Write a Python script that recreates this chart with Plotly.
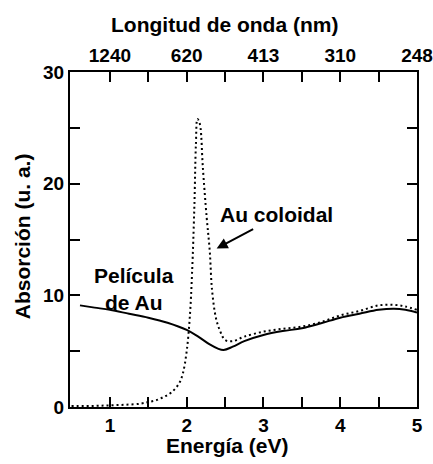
import plotly.graph_objects as go

# Película de Au (solid)
film_E = [0.61, 0.8, 1.0, 1.25, 1.5, 1.75, 2.0, 2.15, 2.3, 2.4, 2.48, 2.6, 2.75, 3.0, 3.25, 3.5, 3.75, 4.0, 4.25, 4.5, 4.7, 4.85, 5.0]
film_A = [9.1, 8.9, 8.7, 8.35, 8.0, 7.55, 6.9, 6.3, 5.6, 5.25, 5.1, 5.4, 5.9, 6.45, 6.8, 7.05, 7.5, 8.0, 8.35, 8.7, 8.8, 8.7, 8.45]

# Au coloidal (dotted)
col_E = [0.5, 0.8, 1.0, 1.2, 1.4, 1.5, 1.6, 1.7, 1.8, 1.9, 1.95, 2.0, 2.04, 2.07, 2.1, 2.12, 2.14, 2.16, 2.18, 2.21, 2.26, 2.3, 2.33, 2.38, 2.43, 2.5, 2.6, 2.75, 3.0, 3.25, 3.5, 3.75, 4.0, 4.25, 4.5, 4.7, 4.85, 5.0]
col_A = [0.1, 0.1, 0.15, 0.2, 0.3, 0.45, 0.6, 0.9, 1.3, 2.1, 3.0, 5.0, 8.0, 12.0, 18.0, 23.5, 25.8, 25.6, 25.0, 21.5, 17.0, 14.0, 10.5, 8.0, 6.9, 6.0, 5.9, 6.3, 6.75, 7.0, 7.2, 7.6, 8.2, 8.6, 9.1, 9.15, 9.0, 8.7]

# ticks (major labelled, halves unlabelled)
energy_ticks = [1, 1.5, 2, 2.5, 3, 3.5, 4, 4.5, 5]
energy_labels = ["1", "", "2", "", "3", "", "4", "", "5"]
wavelength_labels = ["1240", "", "620", "", "413", "", "310", "", "248"]
y_ticks = [0, 5, 10, 15, 20, 25, 30]
y_labels = ["0", "", "10", "", "20", "", "30"]

FONT = "Liberation Sans, Arial, sans-serif"
TICKFONT = dict(family=FONT, size=19, color="black", weight="bold")
LABELFONT = dict(family=FONT, size=21, color="black", weight="bold")

fig = go.Figure()
fig.add_trace(go.Scatter(x=film_E, y=film_A, mode="lines", line=dict(color="black", width=2, shape="spline"),
                         showlegend=False))
fig.add_trace(go.Scatter(x=col_E, y=col_A, mode="lines",
                         line=dict(color="black", width=2, dash="2px,3px", shape="spline"),
                         showlegend=False))
fig.add_trace(go.Scatter(x=[1, 5], y=[0, 0], xaxis="x2", mode="lines", line=dict(width=0), opacity=0,
                         showlegend=False, hoverinfo="skip"))

axis_common = dict(showline=True, linecolor="black", linewidth=2, ticks="inside", tickcolor="#000000",
                   tickwidth=2, ticklen=10, showgrid=False, zeroline=False, tickfont=TICKFONT,
                   automargin=False, tickmode="array", layer="above traces")

C = dict(xanchor="center", yanchor="middle", showarrow=False, font=LABELFONT)

fig.update_layout(
    template="simple_white",
    width=433, height=464,
    margin=dict(l=70, r=16, t=72, b=57),
    plot_bgcolor="rgba(0,0,0,0)", paper_bgcolor="white",
    xaxis=dict(range=[0.48, 5.0], tickvals=energy_ticks, ticktext=energy_labels, mirror=True, **axis_common),
    xaxis2=dict(range=[0.48, 5.0], overlaying="x", side="top", tickvals=energy_ticks,
                ticktext=wavelength_labels, **axis_common),
    yaxis=dict(range=[0, 30], tickvals=y_ticks, ticktext=y_labels, mirror="ticks", **axis_common),
    annotations=[
        dict(x=0.444, y=1.143, xref="paper", yref="paper", text="Longitud de onda (nm)", **C),
        dict(x=0.455, y=-0.115, xref="paper", yref="paper", text="Energía (eV)", **C),
        dict(x=-0.138, y=0.51, xref="paper", yref="paper", text="Absorción (u. a.)", textangle=-90, **C),
        dict(x=2.39, y=14.2, ax=38, ay=-20, xref="x", yref="y",
             text="", showarrow=True, arrowhead=2, arrowsize=1.1, arrowwidth=2, arrowcolor="black"),
        dict(x=3.17, y=17.2, xref="x", yref="y", text="Au coloidal", **C),
        dict(x=1.32, y=10.56, xref="x", yref="y", text="Película<br>de Au", **C),
    ],
)

fig.write_html("out.html", config={"displayModeBar": False},
               post_script="document.body.style.margin='0';document.body.style.overflow='hidden';")
